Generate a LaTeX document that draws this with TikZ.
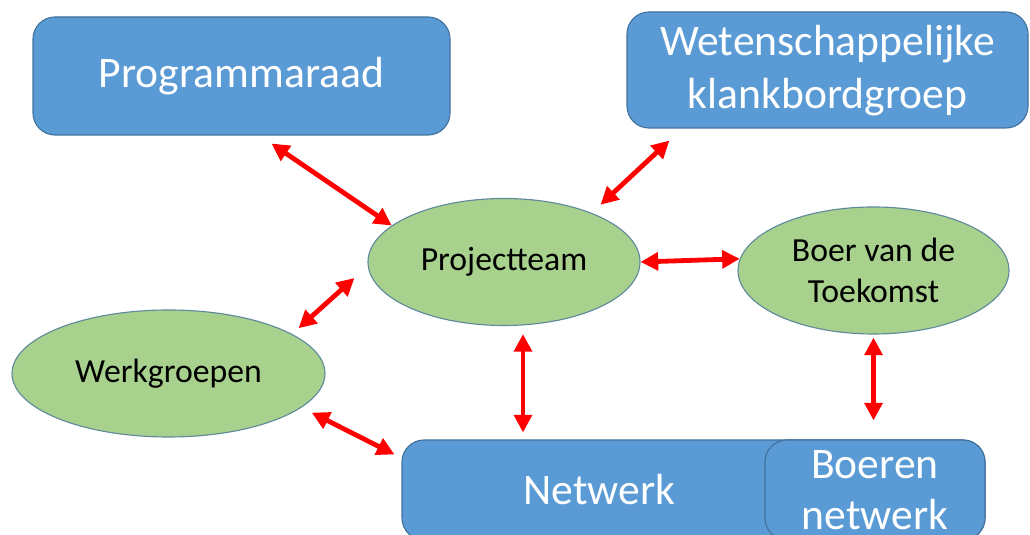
\documentclass[tikz,border=0pt]{standalone}
\usepackage{fontspec}
\setmainfont{Carlito}
\usepackage{xcolor}
\usetikzlibrary{shapes.geometric, arrows.meta, positioning, calc}

\definecolor{boxblue}{HTML}{5B9BD5}
\definecolor{boxedge}{HTML}{41719C}
\definecolor{ovalgreen}{HTML}{A9D18E}
\definecolor{ovaledge}{HTML}{5F8A9C}

\begin{document}
\begin{tikzpicture}[
        >={Triangle[length=0.44cm, width=0.44cm]},
        body/.style={rectangle, draw=boxedge, fill=boxblue, text=white, align=center, rounded corners=0.55cm, line width=0.8pt, font=\fontsize{31}{38}\selectfont},
        group/.style={ellipse, draw=ovaledge, fill=ovalgreen, align=center, inner sep=0pt, line width=0.8pt, minimum height=3.175cm, font=\fontsize{24}{29}\selectfont},
        link/.style={draw, <->, red, line width=0.12cm}
    ]
        \useasboundingbox (0,0) rectangle (25.75,13.375);
        \clip (0,0) rectangle (25.75,13.375);

        % ================= BOVENSTE BLOKKEN =================
        \node[body, minimum width=10.425cm, minimum height=2.95cm] (prog) at (6.0375, 11.475) {Programmaraad};
        \node[body, minimum width=10.025cm, minimum height=2.9cm, text depth=0.15cm] (wet) at (20.6875, 11.625) {Wetenschappelijke\\klankbordgroep};

        % ================= ELLIPSEN =================
        \node[group, minimum width=6.8cm] (proj) at (12.6, 6.825) {Projectteam};
        \node[group, minimum width=6.775cm] (boer) at (21.8375, 6.6125) {Boer van de\\Toekomst};
        \node[group, minimum width=7.825cm] (werk) at (4.2125, 4.0375) {Werkgroepen};

        % ================= NETWERK =================
        \node[body, minimum width=14.575cm, minimum height=2.5cm,
            label={[text=white, xshift=-2.35cm, font=\fontsize{31}{38}\selectfont]center:Netwerk}] (net) at (17.3375, 1.125) {};
        \node[body, minimum width=5.5cm, minimum height=2.5cm, font=\fontsize{31}{36}\selectfont] (bnet) at (21.875, 1.125) {Boeren\\netwerk};

        % ================= PIJLEN =================
        \draw[link] ([shift={(0.75,-0.2)}]prog.south) -- (proj.162);
        \draw[link] ([shift={(1.075,-0.3)}]wet.south west) -- ([yshift=0.3cm]proj.north east);
        \draw[link] (proj.east) -- (boer.175);
        \draw[link] ([shift={(-0.325,-0.4)}]proj.west) -- ([xshift=0.475cm]werk.north east);
        \draw[link] ([shift={(0.475,-0.2)}]proj.south) -- ($(proj.south |- net.north)+(0.475,0.175)$);
        \draw[link] ([shift={(0.3,-0.1)}]werk.-15) -- ([shift={(-0.175,-0.375)}]net.north west);
        \draw[link] ([yshift=-0.075cm]boer.south) -- ($(boer.south |- bnet.north)+(0,0.475)$);

    \end{tikzpicture}
\end{document}
